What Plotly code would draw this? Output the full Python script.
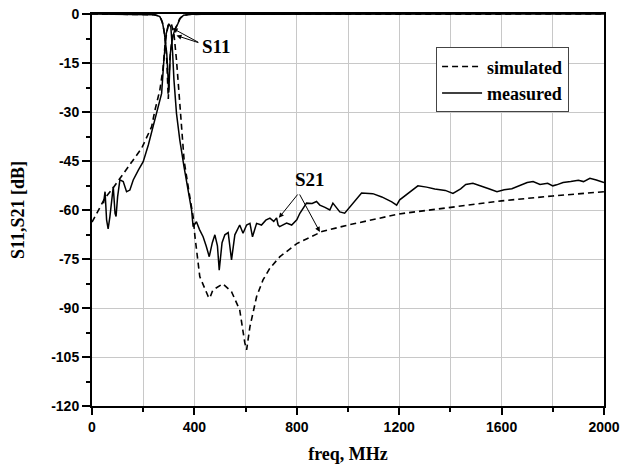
import plotly.graph_objects as go

# ---- data (freq in MHz, level in dB) ----
s21_sim_f = [0, 25, 51, 80, 107, 148, 194, 233, 246, 265, 277, 287, 297, 310, 320, 330, 343, 350, 360, 380, 395,
             402, 421, 454, 460, 472, 500, 511, 545, 577, 597, 604, 617, 643, 668, 695, 734, 800, 898, 1000,
             1200, 1400, 1600, 1800, 2000]
s21_sim_db = [-63.7, -60, -56.3, -53.5, -50.6, -46.2, -41.1, -34.5, -29.4, -23.3, -17, -8, -3.5, -3, -6, -14, -27.4,
              -37, -45, -55, -62, -68, -80.4, -86.5, -87, -84.5, -83, -82.6, -85, -90.6, -100.7, -102.8, -95.7,
              -86.5, -81.4, -77.8, -74.3, -70.3, -66.6, -64.6, -61.2, -59.2, -57.2, -55.7, -54.4]

s21_meas_f = [45, 51, 57, 63, 70, 83, 90, 94, 100, 109, 122, 135, 148, 161, 181, 200, 220, 252, 272, 280, 290, 300,
              308, 315, 320, 330, 343, 360, 376, 389, 395, 408, 420, 434, 446, 458, 470, 480, 490, 497, 508,
              519, 532, 545, 558, 577, 590, 604, 617, 627, 643, 662, 679, 695, 710, 721, 727, 733, 760, 780, 800,
              812, 838, 860, 877, 890, 910, 929, 941, 968, 987, 1019, 1053, 1097, 1132, 1171, 1190, 1202, 1241,
              1273, 1307, 1339, 1380, 1410, 1440, 1460, 1488, 1520, 1550, 1582, 1610, 1640, 1670, 1700, 1723,
              1750, 1780, 1800, 1815, 1840, 1870, 1900, 1920, 1945, 1970, 1992, 2000]
s21_meas_db = [-58, -54.4, -63, -65.8, -62, -52.9, -61, -62, -56, -50.8, -51.3, -54.4, -53.9, -50.8, -47.8, -45.2,
               -40.1, -30.9, -24.3, -15, -6, -3, -4, -12, -20, -30.4, -38.6, -47, -53.9, -60, -65.1, -63.6, -66,
               -68.2, -71, -74.3, -70, -67.6, -71, -78.4, -70, -67.6, -66.9, -75.3, -67.6, -64.6, -67.1, -64.6,
               -64.1, -68.2, -64.1, -64.6, -63.1, -62.5, -63.5, -62.4, -64.6, -65.1, -64, -64.6, -63, -61, -57.9,
               -58, -57.4, -58.5, -59.2, -60, -57.9, -60.6, -61, -57.9, -54.8, -55, -56, -57.5, -58.5, -56.9,
               -54.5, -52.6, -53, -53.6, -54, -54.9, -53.5, -52.2, -51.8, -52.8, -53.5, -54.4, -53.8, -53.5,
               -52.6, -51.6, -51.3, -52.2, -51.8, -52.6, -52.3, -51.6, -51.3, -50.9, -51.3, -50.3, -50.8, -51.4,
               -51.6]

s11_sim_f = [0, 240, 260, 270, 278, 285, 292, 298, 304, 312, 322, 332, 342, 355, 380, 2000]
s11_sim_db = [0, -0.2, -0.6, -1.5, -3.5, -7, -14, -26, -14, -8, -5, -3.5, -1.5, -0.5, -0.1, 0]

s11_meas_f = [0, 245, 265, 275, 283, 292, 300, 306, 315, 325, 335, 345, 358, 385, 2000]
s11_meas_db = [0, -0.2, -0.8, -2.5, -6, -12, -24, -12, -7, -4.5, -3, -1.3, -0.4, -0.1, 0]

x_ticks = [0, 400, 800, 1200, 1600, 2000]
y_ticks = [0, -15, -30, -45, -60, -75, -90, -105, -120]

serif = "Liberation Serif"
sans = "Liberation Sans"

fig = go.Figure()
fig.add_trace(go.Scatter(x=s21_sim_f, y=s21_sim_db, mode="lines", name="<b>simulated</b>",
                         line=dict(color="black", width=1.6, dash="6px,4px")))
fig.add_trace(go.Scatter(x=s21_meas_f, y=s21_meas_db, mode="lines", name="<b>measured</b>",
                         line=dict(color="black", width=1.5)))
fig.add_trace(go.Scatter(x=s11_sim_f, y=s11_sim_db, mode="lines", showlegend=False,
                         line=dict(color="black", width=1.6, dash="6px,4px")))
fig.add_trace(go.Scatter(x=s11_meas_f, y=s11_meas_db, mode="lines", showlegend=False,
                         line=dict(color="black", width=1.5)))

arrow = dict(showarrow=True, arrowhead=2, arrowsize=1, arrowwidth=1, arrowcolor="black",
             axref="x", ayref="y", text="")
anns = [
    dict(x=315, y=-4.4, ax=421, ay=-8.9, **arrow),
    dict(x=330, y=-6.6, ax=421, ay=-8.9, **arrow),
    dict(x=730, y=-62.4, ax=808, ay=-54.8, **arrow),
    dict(x=890, y=-66.7, ax=808, ay=-54.8, **arrow),
    dict(x=485, y=-9.8, text="<b>S11</b>", showarrow=False, font=dict(family=serif, size=19, color="black")),
    dict(x=851, y=-50.8, text="<b>S21</b>", showarrow=False, font=dict(family=serif, size=19, color="black")),
]

fig.update_layout(
    width=622, height=472,
    margin=dict(l=92, r=18, t=14, b=66, autoexpand=False),
    paper_bgcolor="white", plot_bgcolor="white",
    showlegend=True,
    legend=dict(x=0.672, y=0.915, xanchor="left", yanchor="top", bgcolor="white",
                bordercolor="#444", borderwidth=1,
                font=dict(family=serif, size=18, color="black"),
                tracegroupgap=0, itemwidth=40),
    annotations=anns,
    font=dict(family=sans, color="black"),
)
fig.update_xaxes(
    range=[0, 2000], tickvals=x_ticks, ticktext=[str(v) for v in x_ticks],
    automargin=False,
    showline=True, linecolor="black", linewidth=2, mirror=True,
    ticks="outside", ticklen=7, tickwidth=2, tickcolor="black",
    showgrid=True, gridcolor="#c8c8c8", gridwidth=1, zeroline=False,
    minor=dict(dtick=200, tick0=0, ticks="outside", ticklen=4, tickwidth=2, tickcolor="black",
               showgrid=True, gridcolor="#c8c8c8", gridwidth=1),
    tickfont=dict(family=sans, size=14, color="black", weight=700),
    title=dict(text="<b>freq, MHz</b>", font=dict(family=serif, size=18, color="black"), standoff=14),
)
fig.update_yaxes(
    range=[-120, 0], tickvals=y_ticks, ticktext=[str(v) for v in y_ticks],
    automargin=False,
    showline=True, linecolor="black", linewidth=2, mirror=True,
    ticks="outside", ticklen=8, tickwidth=2, tickcolor="black",
    showgrid=True, gridcolor="#c8c8c8", gridwidth=1, zeroline=False,
    minor=dict(dtick=7.5, tick0=0, ticks="outside", ticklen=4, tickwidth=2, tickcolor="black",
               showgrid=False),
    tickfont=dict(family=sans, size=14, color="black", weight=700),
    title=dict(text="<b>S11,S21 [dB]</b>", font=dict(family=serif, size=18, color="black"), standoff=22),
)

# remove the default page margin so the 622x472 figure fills the window exactly
fig.write_html("out.html", config={"displayModeBar": False},
               post_script="document.body.style.margin='0';")
